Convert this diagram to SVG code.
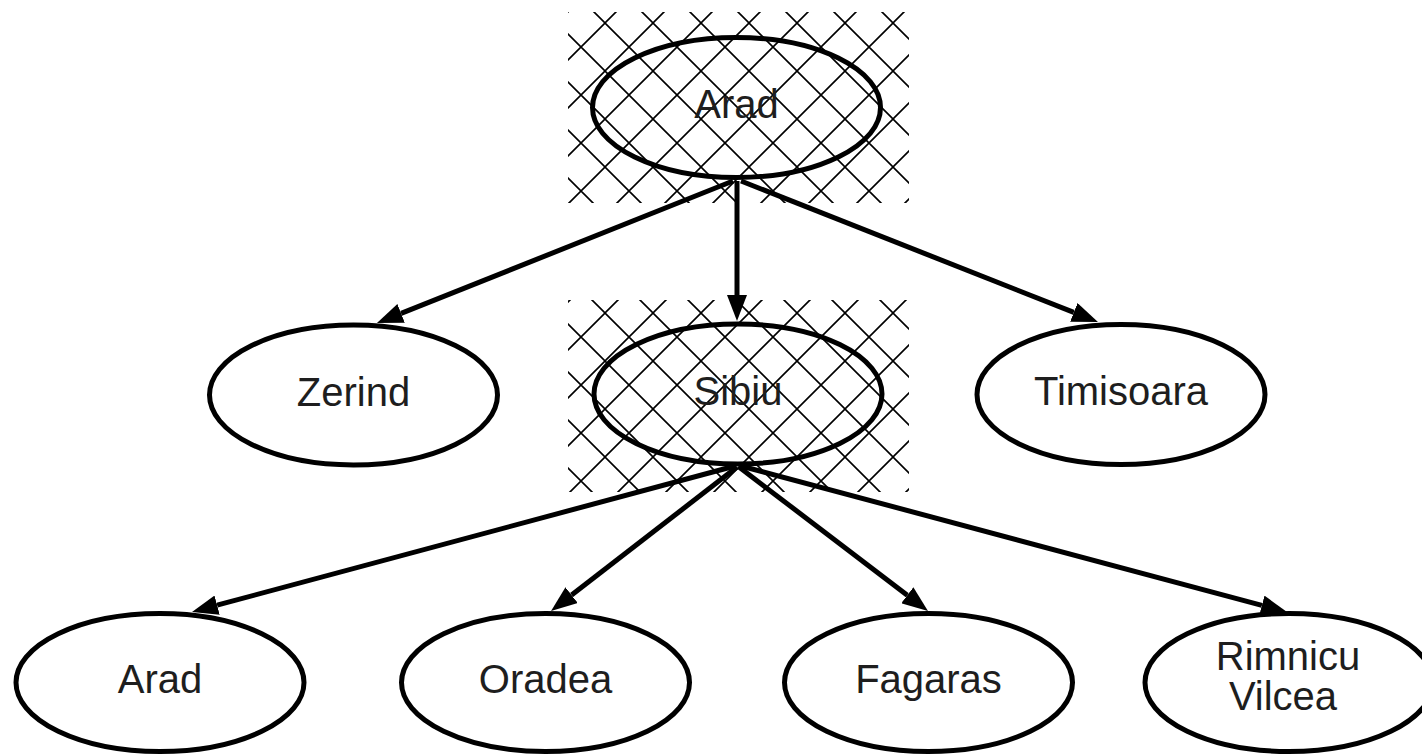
<svg xmlns="http://www.w3.org/2000/svg" width="1422" height="755" viewBox="0 0 1422 755">
  <style>
    .node { fill: #ffffff; stroke: #000000; stroke-width: 5; }
    .hnode { fill: none; stroke: #000000; stroke-width: 5; }
    .edge { stroke: #000000; stroke-width: 5; fill: none; marker-end: url(#arrow); }
    .label { font-family: "Liberation Sans", Arial, sans-serif; font-size: 40px; fill: #1e1e1e; text-anchor: middle; }
  </style>
  <defs>
    <marker id="arrow" markerUnits="userSpaceOnUse" viewBox="0 0 26 20" markerWidth="26" markerHeight="20" refX="0" refY="10" orient="auto">
      <path d="M0,0 L26,10 L0,20 z" fill="#000000"/>
    </marker>
    <pattern id="hatch1" patternUnits="userSpaceOnUse" x="605" y="23" width="48" height="48">
      <path d="M0,0 L48,48 M48,0 L0,48" stroke="#000000" stroke-width="1.6" fill="none"/>
    </pattern>
    <pattern id="hatch2" patternUnits="userSpaceOnUse" x="605" y="313" width="48" height="48">
      <path d="M0,0 L48,48 M48,0 L0,48" stroke="#000000" stroke-width="1.6" fill="none"/>
    </pattern>
  </defs>
  <rect x="0" y="0" width="1422" height="755" fill="#ffffff"/>

  <g id="hatching">
    <rect x="568" y="12" width="341" height="191" fill="url(#hatch1)"/>
    <rect x="568" y="300" width="341" height="192" fill="url(#hatch2)"/>
  </g>

  <g id="connectors">
    <line class="edge" x1="733" y1="181" x2="401.1" y2="313.4"/>
    <line class="edge" x1="737" y1="181" x2="737" y2="295"/>
    <line class="edge" x1="741" y1="181" x2="1073.8" y2="312.4"/>
    <line class="edge" x1="735" y1="466" x2="217.1" y2="605.2"/>
    <line class="edge" x1="737" y1="467" x2="571.6" y2="595.1"/>
    <line class="edge" x1="739" y1="467" x2="907.3" y2="595.2"/>
    <line class="edge" x1="741" y1="466" x2="1261.9" y2="605.3"/>
  </g>

  <g id="node-arad-root">
    <ellipse class="hnode" cx="736.5" cy="107.5" rx="144" ry="70"/>
    <text class="label" x="736.5" y="118">Arad</text>
  </g>
  <g id="node-zerind">
    <ellipse class="node" cx="353.5" cy="395" rx="144" ry="70"/>
    <text class="label" x="353.5" y="405.5">Zerind</text>
  </g>
  <g id="node-sibiu">
    <ellipse class="hnode" cx="738" cy="394" rx="144" ry="70"/>
    <text class="label" x="738" y="405">Sibiu</text>
  </g>
  <g id="node-timisoara">
    <ellipse class="node" cx="1121" cy="394.5" rx="144" ry="70"/>
    <text class="label" x="1121" y="405">Timisoara</text>
  </g>
  <g id="node-arad-leaf">
    <ellipse class="node" cx="160" cy="682.5" rx="144" ry="69"/>
    <text class="label" x="160" y="693">Arad</text>
  </g>
  <g id="node-oradea">
    <ellipse class="node" cx="545.5" cy="682.5" rx="144" ry="69"/>
    <text class="label" x="545.5" y="693">Oradea</text>
  </g>
  <g id="node-fagaras">
    <ellipse class="node" cx="928.5" cy="682.5" rx="144" ry="69"/>
    <text class="label" x="928.5" y="693">Fagaras</text>
  </g>
  <g id="node-rimnicu-vilcea">
    <ellipse class="node" cx="1289" cy="682.5" rx="144" ry="69"/>
    <text class="label" x="1288" y="670">Rimnicu</text>
    <text class="label" x="1283" y="710">Vilcea</text>
  </g>
</svg>
